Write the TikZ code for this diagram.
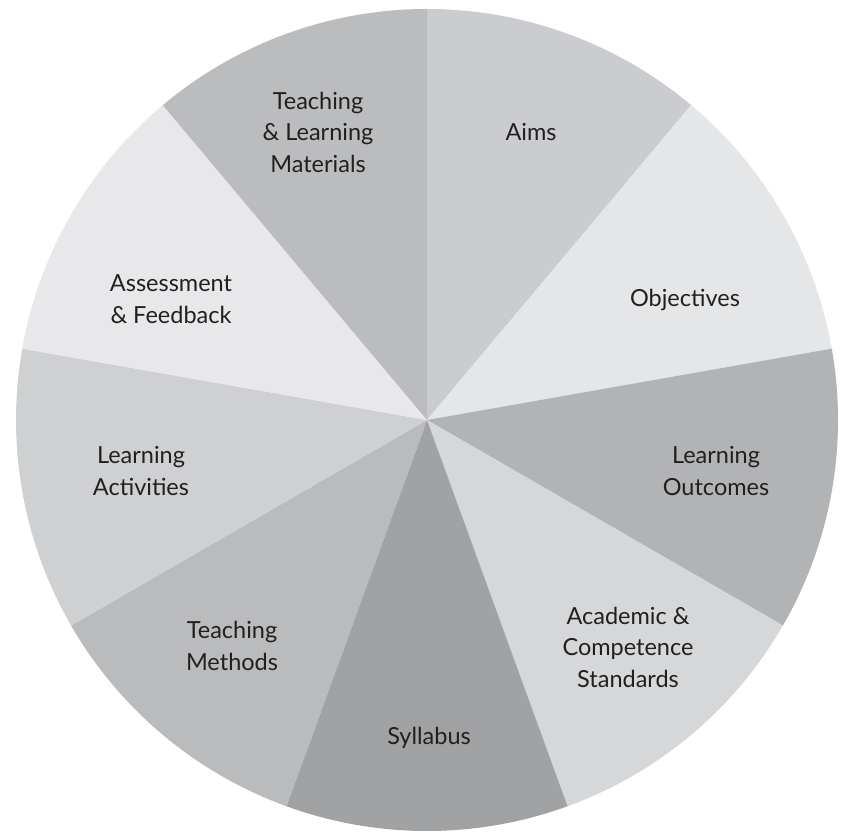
\documentclass[tikz,border=0pt]{standalone}
\usepackage{fontspec}
\setmainfont{Lato}
\definecolor{cAims}{HTML}{CBCCCF}
\definecolor{cObj}{HTML}{E5E6E8}
\definecolor{cLO}{HTML}{B2B3B5}
\definecolor{cAcad}{HTML}{D6D7D9}
\definecolor{cSyl}{HTML}{A1A2A4}
\definecolor{cTM}{HTML}{BABBBD}
\definecolor{cLA}{HTML}{CFD0D2}
\definecolor{cAss}{HTML}{E8E8EA}
\definecolor{cTLM}{HTML}{BBBCBE}
\definecolor{txt}{HTML}{231F20}
\begin{document}
\begin{tikzpicture}[x=1pt,y=1pt,
  lbl/.style={align=center,text=txt,font=\fontsize{23.5}{31.5}\selectfont,inner sep=0pt}]
\useasboundingbox (0,0) rectangle (845,834);
\fill[white] (0,0) rectangle (845,834);
\coordinate (c) at (427,414);
\def\R{411}
\foreach \a/\b/\col in {50/90/cAims,10/50/cObj,-30/10/cLO,-70/-30/cAcad,-110/-70/cSyl,-150/-110/cTM,170/210/cLA,130/170/cAss,90/130/cTLM}{
  \fill[\col] (c) -- ++(\a:\R) arc[start angle=\a,end angle=\b,radius=\R] -- cycle;
}
\node[lbl] (tlm) at (318,702) {Teaching\\\& Learning\\Materials};
\node[lbl] (aims) at (531,702) {Aims};
\node[lbl] (obj) at (685,534) {Objectives};
\node[lbl] (lo) at (716,363) {Learning\\Outcomes};
\node[lbl] (acad) at (628,187) {Academic \&\\Competence\\Standards};
\node[lbl] (syl) at (429,96) {Syllabus};
\node[lbl] (tm) at (232,188) {Teaching\\Methods};
\node[lbl] (la) at (141,363) {Learning\\Activities};
\node[lbl] (ass) at (171,535) {Assessment\\\& Feedback};
\end{tikzpicture}
\end{document}
